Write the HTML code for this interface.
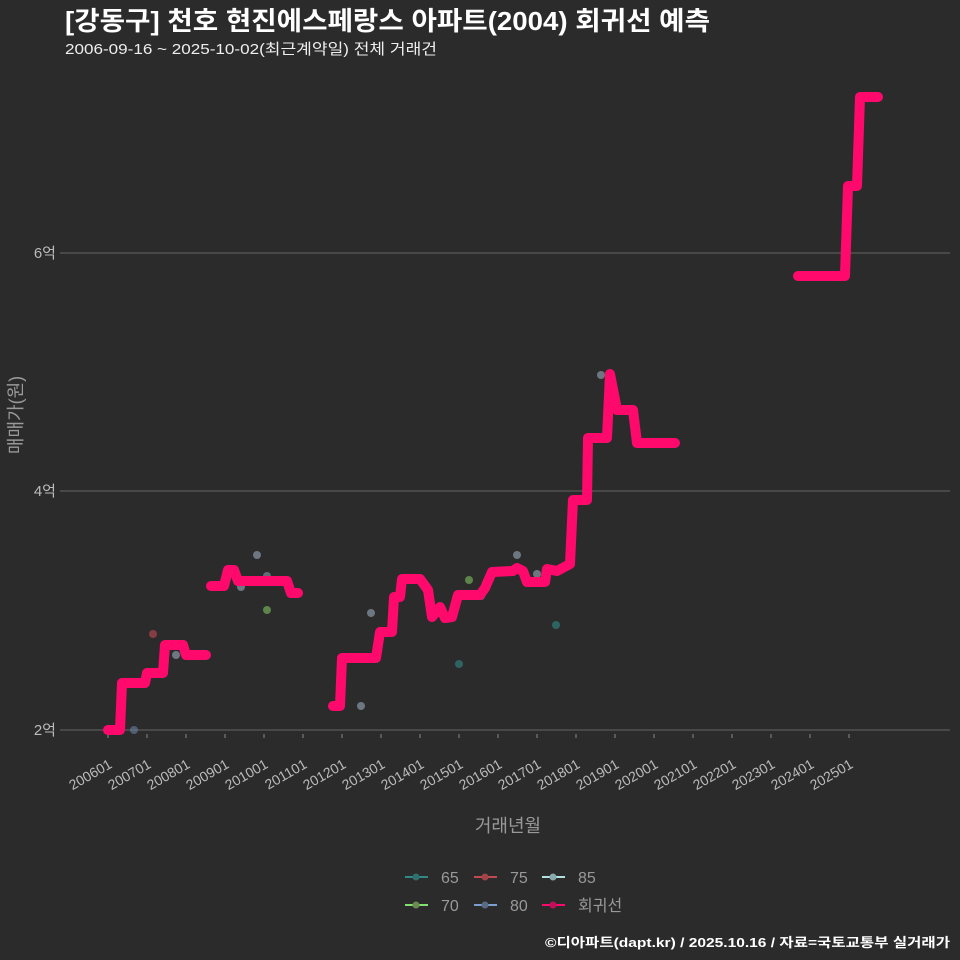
<!DOCTYPE html><html><head><meta charset="utf-8"><style>
body{margin:0;background:#2b2b2c;font-family:"Liberation Sans","Noto Sans CJK KR",sans-serif}
</style></head><body>
<svg width="960" height="960" xmlns="http://www.w3.org/2000/svg" style="display:block">
<rect width="960" height="960" fill="#2b2b2c"/>
<text x="65" y="30" fill="#fff" font-size="26" font-weight="bold" textLength="645" lengthAdjust="spacingAndGlyphs" font-family="Liberation Sans,Noto Sans CJK KR,sans-serif">[강동구] 천호 현진에스페랑스 아파트(2004) 회귀선 예측</text>
<text x="65" y="54" fill="#eee" font-size="15" textLength="372" lengthAdjust="spacingAndGlyphs" font-family="Liberation Sans,Noto Sans CJK KR,sans-serif">2006-09-16 ~ 2025-10-02(최근계약일) 전체 거래건</text>
<g stroke="#5a5a5a" stroke-width="1.2">
<line x1="60" y1="253" x2="950" y2="253"/><line x1="60" y1="491" x2="950" y2="491"/><line x1="60" y1="730" x2="950" y2="730"/>
</g>
<g fill="#bbb" font-size="15" text-anchor="end" font-family="Liberation Sans,Noto Sans CJK KR,sans-serif">
<text x="56" y="258">6억</text><text x="56" y="496">4억</text><text x="56" y="735">2억</text>
</g>
<text transform="translate(22,415) rotate(-90)" fill="#999" font-size="18" text-anchor="middle" font-family="Liberation Sans,Noto Sans CJK KR,sans-serif">매매가(원)</text>
<g fill="#bbb" font-size="14" text-anchor="end" font-family="Liberation Sans,sans-serif">
<text transform="translate(113,767) rotate(-30)">200601</text>
<text transform="translate(152,767) rotate(-30)">200701</text>
<text transform="translate(191,767) rotate(-30)">200801</text>
<text transform="translate(230,767) rotate(-30)">200901</text>
<text transform="translate(269,767) rotate(-30)">201001</text>
<text transform="translate(308,767) rotate(-30)">201101</text>
<text transform="translate(347,767) rotate(-30)">201201</text>
<text transform="translate(386,767) rotate(-30)">201301</text>
<text transform="translate(425,767) rotate(-30)">201401</text>
<text transform="translate(464,767) rotate(-30)">201501</text>
<text transform="translate(503,767) rotate(-30)">201601</text>
<text transform="translate(542,767) rotate(-30)">201701</text>
<text transform="translate(581,767) rotate(-30)">201801</text>
<text transform="translate(620,767) rotate(-30)">201901</text>
<text transform="translate(659,767) rotate(-30)">202001</text>
<text transform="translate(698,767) rotate(-30)">202101</text>
<text transform="translate(737,767) rotate(-30)">202201</text>
<text transform="translate(776,767) rotate(-30)">202301</text>
<text transform="translate(815,767) rotate(-30)">202401</text>
<text transform="translate(854,767) rotate(-30)">202501</text>
</g>
<g stroke="#888" stroke-width="1">
<line x1="108" y1="734" x2="108" y2="738"/><line x1="147" y1="734" x2="147" y2="738"/><line x1="186" y1="734" x2="186" y2="738"/><line x1="225" y1="734" x2="225" y2="738"/><line x1="264" y1="734" x2="264" y2="738"/><line x1="303" y1="734" x2="303" y2="738"/><line x1="342" y1="734" x2="342" y2="738"/><line x1="381" y1="734" x2="381" y2="738"/><line x1="420" y1="734" x2="420" y2="738"/><line x1="459" y1="734" x2="459" y2="738"/><line x1="498" y1="734" x2="498" y2="738"/><line x1="537" y1="734" x2="537" y2="738"/><line x1="576" y1="734" x2="576" y2="738"/><line x1="615" y1="734" x2="615" y2="738"/><line x1="654" y1="734" x2="654" y2="738"/><line x1="693" y1="734" x2="693" y2="738"/><line x1="732" y1="734" x2="732" y2="738"/><line x1="771" y1="734" x2="771" y2="738"/><line x1="810" y1="734" x2="810" y2="738"/><line x1="849" y1="734" x2="849" y2="738"/>
</g>
<text x="508" y="832" fill="#999" font-size="18" text-anchor="middle" font-family="Liberation Sans,Noto Sans CJK KR,sans-serif">거래년월</text>
<g opacity="0.6" stroke-width="1">
<circle cx="134" cy="730" r="4" fill="#6a7fa0"/><circle cx="153" cy="634" r="4" fill="#c04b50"/><circle cx="176" cy="655" r="4" fill="#9ab"/>
<circle cx="257" cy="555" r="4" fill="#9ab"/><circle cx="241" cy="587" r="4" fill="#9ab"/><circle cx="267" cy="576" r="4" fill="#8899aa"/><circle cx="267" cy="610" r="4" fill="#7fbf60"/>
<circle cx="361" cy="706" r="4" fill="#9ab"/><circle cx="371" cy="613" r="4" fill="#9ab"/><circle cx="459" cy="664" r="4" fill="#2f8a86"/><circle cx="469" cy="580" r="4" fill="#7fbf60"/>
<circle cx="517" cy="555" r="4" fill="#9ab"/><circle cx="556" cy="625" r="4" fill="#2f8a86"/><circle cx="601" cy="375" r="4" fill="#9ab"/><circle cx="537" cy="574" r="4" fill="#9ab"/><circle cx="481" cy="596" r="4" fill="#8899aa"/>
</g>
<g fill="none" stroke="#ff0a6c" stroke-width="10" stroke-linecap="round" stroke-linejoin="round">
<polyline points="108,730 120,730 122,683 145,683 147,673 163,673 165,645 183,645 186,655 206,655"/>
<polyline points="211,586 224,586 228,570 234,570 238,581 287,581 291,593 298,593"/>
<polyline points="333,706 340,706 342,658 376,658 380,632 392,632 394,597 400,597 402,579 420,579 428,590 432,617 440,607 445,618 452,617 458,595 480,595 485,588 492,572 513,571 517,568 523,571 527,582 545,582 547,569 557,571 570,564 573,500 587,500 588,438 607,438 610,374 617,410 633,410 637,443 675,443"/>
<polyline points="798,276 845,276 848,186 857,186 860,97 878,97"/>
</g>
<g font-size="16" fill="#999" font-family="Liberation Sans,Noto Sans CJK KR,sans-serif">
<line x1="405" y1="877" x2="428" y2="877" stroke="#2f8a86" stroke-width="2"/><circle cx="416" cy="877" r="3.5" fill="#2f6f6c"/><text x="441" y="883">65</text>
<line x1="474" y1="877" x2="497" y2="877" stroke="#c04b50" stroke-width="2"/><circle cx="485" cy="877" r="3.5" fill="#a04448"/><text x="510" y="883">75</text>
<line x1="542" y1="877" x2="565" y2="877" stroke="#b0e0e0" stroke-width="2"/><circle cx="553" cy="877" r="3.5" fill="#8aa"/><text x="578" y="883">85</text>
<line x1="405" y1="905" x2="428" y2="905" stroke="#80e070" stroke-width="2"/><circle cx="416" cy="905" r="3.5" fill="#6a8a50"/><text x="441" y="911">70</text>
<line x1="474" y1="905" x2="497" y2="905" stroke="#7a9fd0" stroke-width="2"/><circle cx="485" cy="905" r="3.5" fill="#5a6a80"/><text x="510" y="911">80</text>
<line x1="542" y1="905" x2="565" y2="905" stroke="#ff0a6c" stroke-width="2"/><circle cx="553" cy="905" r="3.5" fill="#c0105a"/><text x="578" y="911">회귀선</text>
</g>
<text x="950" y="947" fill="#fff" font-size="13" font-weight="bold" text-anchor="end" textLength="405" lengthAdjust="spacingAndGlyphs" font-family="Liberation Sans,Noto Sans CJK KR,sans-serif">©디아파트(dapt.kr) / 2025.10.16 / 자료=국토교통부 실거래가</text>
</svg>
</body></html>
